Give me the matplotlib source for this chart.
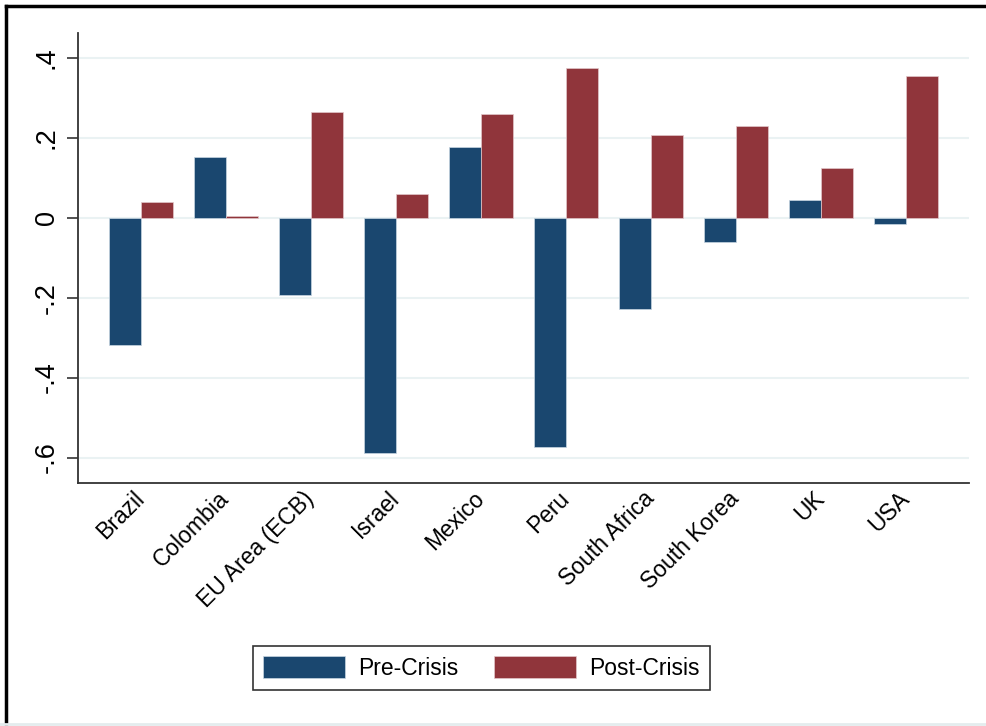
import numpy as np
import matplotlib
matplotlib.use("Agg")
import matplotlib.pyplot as plt
from matplotlib.lines import Line2D

plt.rcParams['font.family'] = ['Liberation Sans', 'DejaVu Sans']

countries = ['Brazil', 'Colombia', 'EU Area (ECB)', 'Israel', 'Mexico',
             'Peru', 'South Africa', 'South Korea', 'UK', 'USA']
pre_crisis = [-0.318, 0.151, -0.194, -0.588, 0.176,
              -0.573, -0.228, -0.061, 0.044, -0.017]
post_crisis = [0.038, 0.003, 0.264, 0.059, 0.259,
               0.373, 0.206, 0.230, 0.123, 0.355]
yticks = [-0.6, -0.4, -0.2, 0.0, 0.2, 0.4]
ytick_labels = ['-.6', '-.4', '-.2', '0', '.2', '.4']

navy = '#1a476f'
maroon = '#90353b'

fig = plt.figure(figsize=(9.86, 7.26), dpi=100)
ax = fig.add_axes([0.0791, 0.3351, 0.9034, 0.6199])

x = np.arange(len(countries))
w = 0.373
ax.bar(x - w/2, pre_crisis, w, color=navy, edgecolor='#c8d6e2', linewidth=0.5,
       label='Pre-Crisis', zorder=3)
ax.bar(x + w/2, post_crisis, w, color=maroon, edgecolor='#e2c8ca', linewidth=0.5,
       label='Post-Crisis', zorder=3)

ax.set_xlim(-0.74, len(countries) - 1 + 0.74)
ax.set_ylim(-0.663, 0.4625)

ax.set_yticks(yticks)
ax.set_yticklabels(ytick_labels, rotation=90, va='center', fontsize=19.5)
ax.tick_params(axis='y', length=8, width=1.2, color='#333333', pad=5)
ax.yaxis.grid(True, color='#eaf2f3', linewidth=1.5, zorder=0)
ax.set_axisbelow(True)

ax.set_xticks(x)
ax.set_xticklabels(countries, rotation=45, ha='right', va='center',
                   rotation_mode='anchor', fontsize=16.5)
ax.tick_params(axis='x', length=0, pad=9)

for side in ['top', 'right']:
    ax.spines[side].set_visible(False)
for side in ['left', 'bottom']:
    ax.spines[side].set_color('#333333')
    ax.spines[side].set_linewidth(1.3)

leg = ax.legend(loc='center', bbox_to_anchor=(481.7/986, 1 - 668/726),
                bbox_transform=fig.transFigure, ncol=2, fontsize=16.5,
                frameon=True, fancybox=False, edgecolor='black',
                handlelength=3.55, handleheight=1.1, handletextpad=0.6,
                columnspacing=1.55, borderpad=0.45)
leg.get_frame().set_linewidth(1.2)

# outer frame: dark left/top edges, faint bottom edge
fig.add_artist(Line2D([6/986, 6/986], [0, 1 - 6/726], color='black', linewidth=2.5,
                      transform=fig.transFigure))
fig.add_artist(Line2D([6/986, 1], [1 - 6/726, 1 - 6/726], color='black', linewidth=2.5,
                      transform=fig.transFigure))
fig.add_artist(Line2D([0, 1], [2/726, 2/726], color='#e4ecee', linewidth=2,
                      transform=fig.transFigure))

fig.savefig('out.png', dpi=100)
